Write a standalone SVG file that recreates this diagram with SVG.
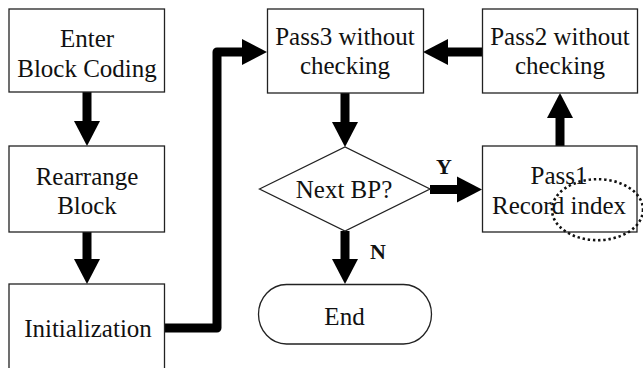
<svg xmlns="http://www.w3.org/2000/svg" width="643" height="368" viewBox="0 0 643 368">
<style>
.box{fill:#fff;stroke:#222;stroke-width:1.3}
.t{font-family:"Liberation Serif","Times New Roman",serif;font-size:25px;fill:#111;text-anchor:middle}
.lbl{font-family:"Liberation Serif","Times New Roman",serif;font-size:22px;font-weight:bold;fill:#111}
.c{fill:none;stroke:#000;stroke-width:9}
</style>
<defs>
<marker id="ah" markerUnits="userSpaceOnUse" markerWidth="26" markerHeight="27" refX="0" refY="13" orient="auto" viewBox="0 0 26 26">
<path d="M0,0 L25,13 L0,26 z" fill="#000"/>
</marker>
</defs>
<rect width="643" height="368" fill="#fff"/>
<g id="connectors">
<line class="c" x1="87" y1="92" x2="87" y2="121" marker-end="url(#ah)"/>
<line class="c" x1="87" y1="232" x2="87" y2="259" marker-end="url(#ah)"/>
<polyline class="c" stroke-width="8" stroke-linejoin="round" points="165,328 217,328 217,52 242,52" marker-end="url(#ah)"/>
<line class="c" x1="482" y1="52" x2="448" y2="52" marker-end="url(#ah)"/>
<line class="c" x1="345" y1="93" x2="345" y2="122" marker-end="url(#ah)"/>
<line class="c" x1="560" y1="146" x2="560" y2="118" marker-end="url(#ah)"/>
<line class="c" x1="430" y1="189.5" x2="457" y2="189.5" marker-end="url(#ah)"/>
<line class="c" x1="345" y1="231" x2="345" y2="259" marker-end="url(#ah)"/>
<text class="lbl" x="444" y="173.5" text-anchor="middle">Y</text>
<text class="lbl" x="370" y="259">N</text>
</g>
<g id="enter">
<rect class="box" x="9" y="9" width="155.5" height="83"/>
<text class="t" x="87" y="47">Enter</text>
<text class="t" x="87" y="76.5">Block Coding</text>
</g>
<g id="rearrange">
<rect class="box" x="9" y="146" width="155.5" height="86"/>
<text class="t" x="87" y="185">Rearrange</text>
<text class="t" x="87" y="214">Block</text>
</g>
<g id="init">
<rect class="box" x="9" y="284" width="155.5" height="90"/>
<text class="t" x="88" y="336.5">Initialization</text>
</g>
<g id="pass3">
<rect class="box" x="267.5" y="9" width="156" height="84"/>
<text class="t" x="345" y="45">Pass3 without</text>
<text class="t" x="345" y="73.5">checking</text>
</g>
<g id="pass2">
<rect class="box" x="482.5" y="9" width="155" height="84"/>
<text class="t" x="560" y="45">Pass2 without</text>
<text class="t" x="560" y="73.5">checking</text>
</g>
<g id="decision">
<polygon class="box" points="259.5,189 345,147 430,189 345,231"/>
<text class="t" x="344" y="197.5">Next BP?</text>
</g>
<g id="pass1">
<rect class="box" x="482.5" y="146" width="154.5" height="86"/>
<text class="t" x="559" y="183.5">Pass1</text>
<text class="t" x="559" y="214">Record index</text>
</g>
<g id="end">
<rect class="box" x="258.5" y="284.5" width="173" height="59.5" rx="28" ry="29.75"/>
<text class="t" x="344.5" y="324.5">End</text>
</g>
<g id="highlight">
<ellipse cx="597.5" cy="209.7" rx="45.5" ry="30.5" fill="none" stroke="#111" stroke-width="2.6" stroke-dasharray="2.4 2.8"/>
</g>
</svg>
